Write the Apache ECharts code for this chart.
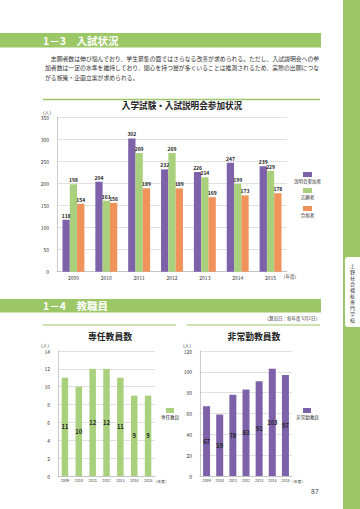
<!DOCTYPE html>
<html>
<head>
<meta charset="utf-8">
<script src="https://cdn.jsdelivr.net/npm/echarts@6/dist/echarts.min.js"></script>
<style>
  html, body { margin: 0; padding: 0; background: #fff; }
  #page { width: 360px; height: 509px; }
</style>
</head>
<body>
<div id="page"></div>
<script>
// --- data -----------------------------------------------------------------
const years = ['2009', '2010', '2011', '2012', '2013', '2014', '2015'];

const examNames = ['説明会参加者', '志願者', '合格者'];
const sessionAttendees = [118, 204, 302, 232, 226, 247, 239];
const applicants = [198, 161, 269, 269, 214, 199, 229];
const passed = [154, 156, 189, 189, 169, 173, 178];

const fullTimeName = '専任教員';
const fullTimeStaff = [11, 10, 12, 12, 11, 9, 9];

const partTimeName = '非常勤教員';
const partTimeStaff = [67, 59, 78, 83, 91, 103, 97];

// --- look -----------------------------------------------------------------
const GREEN = '#9cc766';
const PURPLE = '#7d62aa';
const LGREEN = '#a9d07c';
const ORANGE = '#f0935a';
const FONT = '"Noto Sans CJK JP", "Noto Sans", sans-serif';

const chart = echarts.init(document.getElementById('page'), null, { renderer: 'svg' });

function axisX(gridIndex, size) {
  return {
    type: 'category', gridIndex: gridIndex, data: years,
    axisTick: { show: false },
    axisLine: { lineStyle: { color: '#bdbdbd', width: 0.8 } },
    axisLabel: { interval: 0, fontSize: size, color: '#333', margin: 3, fontFamily: FONT }
  };
}
function axisY(gridIndex, max, interval) {
  return {
    type: 'value', gridIndex: gridIndex, min: 0, max: max, interval: interval,
    axisLine: { show: true, lineStyle: { color: '#bdbdbd', width: 0.8 } },
    axisTick: { show: false },
    splitLine: { lineStyle: { color: '#d9d9d9', width: 0.8 } },
    axisLabel: { fontSize: 5, color: '#333', margin: 8, fontFamily: FONT }
  };
}
const topLabel = { show: true, position: 'top', distance: 2, fontSize: 5, fontWeight: 'bold', color: '#222', fontFamily: FONT };
const midLabel = { show: true, position: 'inside', fontSize: 5.8, fontWeight: 'bold', color: '#222', fontFamily: FONT };

// paragraph lines
const para = [
  '　志願者数は伸び悩んでおり、学生募集の面ではさらなる改善が求められる。ただし、入試説明会への参',
  '加者数は一定の水準を維持しており、関心を持つ層が多くいることは推測されるため、実際の出願につな',
  'がる施策・企画立案が求められる。'
];
const paraY = [58, 67.5, 77];

const sideText = '上野社会福祉専門学校'.split('').join('\n');

const graphics = [
  // right edge strip and tab
  { type: 'rect', shape: { x: 343, y: 0, width: 17, height: 509 }, style: { fill: GREEN } },
  { type: 'rect', shape: { x: 345, y: 257, width: 20, height: 70, r: 3 }, style: { fill: '#fff' } },
  { type: 'text', x: 352.5, y: 292, style: { text: sideText, fontSize: 5, lineHeight: 6, fill: '#333', align: 'center', verticalAlign: 'middle', fontFamily: FONT } },

  // section 1-3
  { type: 'rect', shape: { x: 0, y: 33, width: 321, height: 14.5 }, style: { fill: GREEN } },
  { type: 'text', x: 43, y: 40.5, style: { text: '1－3　入試状況', fontSize: 10.5, fontWeight: 'bold', fill: '#fff', verticalAlign: 'middle', fontFamily: FONT } },
  { type: 'line', shape: { x1: 43, y1: 99.5, x2: 320, y2: 99.5 }, style: { stroke: GREEN, lineWidth: 1.5 } },
  { type: 'text', x: 182, y: 105, style: { text: '入学試験・入試説明会参加状況', fontSize: 8.6, fontWeight: 'bold', fill: '#222', align: 'center', verticalAlign: 'middle', fontFamily: FONT } },
  { type: 'text', x: 47, y: 112, style: { text: '（人）', fontSize: 4.5, fill: '#333', align: 'center', verticalAlign: 'middle', fontFamily: FONT } },
  { type: 'text', x: 281, y: 276, style: { text: '（年度）', fontSize: 4.5, fill: '#333', verticalAlign: 'middle', fontFamily: FONT } },

  // section 1-4
  { type: 'rect', shape: { x: 0, y: 299, width: 321, height: 13.5 }, style: { fill: GREEN } },
  { type: 'text', x: 43, y: 305.8, style: { text: '1－4　教職員', fontSize: 10.5, fontWeight: 'bold', fill: '#fff', verticalAlign: 'middle', fontFamily: FONT } },
  { type: 'text', x: 320, y: 318, style: { text: '（算出日：各年度 5月1日）', fontSize: 4.5, fill: '#333', align: 'right', verticalAlign: 'middle', fontFamily: FONT } },
  { type: 'line', shape: { x1: 43, y1: 325, x2: 176, y2: 325 }, style: { stroke: GREEN, lineWidth: 1.2 } },
  { type: 'line', shape: { x1: 187, y1: 325, x2: 320, y2: 325 }, style: { stroke: GREEN, lineWidth: 1.2 } },
  { type: 'text', x: 110, y: 336, style: { text: '専任教員数', fontSize: 8.8, fontWeight: 'bold', fill: '#222', align: 'center', verticalAlign: 'middle', fontFamily: FONT } },
  { type: 'text', x: 254, y: 336, style: { text: '非常勤教員数', fontSize: 8.8, fontWeight: 'bold', fill: '#222', align: 'center', verticalAlign: 'middle', fontFamily: FONT } },
  { type: 'text', x: 45, y: 345, style: { text: '（人）', fontSize: 4.5, fill: '#333', align: 'center', verticalAlign: 'middle', fontFamily: FONT } },
  { type: 'text', x: 187, y: 345, style: { text: '（人）', fontSize: 4.5, fill: '#333', align: 'center', verticalAlign: 'middle', fontFamily: FONT } },
  { type: 'text', x: 153.5, y: 481, style: { text: '（年度）', fontSize: 3.8, fill: '#333', verticalAlign: 'middle', fontFamily: FONT } },
  { type: 'text', x: 290, y: 481, style: { text: '（年度）', fontSize: 3.8, fill: '#333', verticalAlign: 'middle', fontFamily: FONT } },

  // page number
  { type: 'text', x: 315, y: 491, style: { text: '87', fontSize: 7, fill: '#444', align: 'center', verticalAlign: 'middle', fontFamily: FONT } }
];

para.forEach(function (line, i) {
  graphics.push({ type: 'text', x: 45, y: paraY[i], style: { text: line, fontSize: 5.85, fill: '#333', verticalAlign: 'middle', fontFamily: '"Noto Sans CJK JP", serif' } });
});

// legends (icon above text)
const examColors = [PURPLE, LGREEN, ORANGE];
const legY = [172, 188, 206];
examNames.forEach(function (n, i) {
  graphics.push({ type: 'rect', shape: { x: 303, y: legY[i], width: 9, height: 5 }, style: { fill: examColors[i] } });
  graphics.push({ type: 'text', x: 307.5, y: legY[i] + 9, style: { text: n, fontSize: 4.5, fill: '#333', align: 'center', verticalAlign: 'middle', fontFamily: FONT } });
});
graphics.push({ type: 'rect', shape: { x: 166, y: 408, width: 8, height: 5 }, style: { fill: LGREEN } });
graphics.push({ type: 'text', x: 170, y: 417, style: { text: fullTimeName, fontSize: 4.5, fill: '#333', align: 'center', verticalAlign: 'middle', fontFamily: FONT } });
graphics.push({ type: 'rect', shape: { x: 303, y: 408, width: 8, height: 5 }, style: { fill: PURPLE } });
graphics.push({ type: 'text', x: 307.5, y: 417, style: { text: partTimeName, fontSize: 4.5, fill: '#333', align: 'center', verticalAlign: 'middle', fontFamily: FONT } });

chart.setOption({
  backgroundColor: '#fff',
  animation: false,
  textStyle: { fontFamily: FONT },
  grid: [
    { left: 57, right: 73, top: 117.3, bottom: 237.3 },
    { left: 58, right: 205, top: 351, bottom: 33 },
    { left: 200, right: 68, top: 351, bottom: 33 }
  ],
  xAxis: [axisX(0, 5), axisX(1, 3.8), axisX(2, 3.8)],
  yAxis: [axisY(0, 350, 50), axisY(1, 14, 2), axisY(2, 120, 20)],
  series: [
    { name: examNames[0], type: 'bar', xAxisIndex: 0, yAxisIndex: 0, data: sessionAttendees, barWidth: 7.3, barGap: '0%', itemStyle: { color: PURPLE }, label: topLabel },
    { name: examNames[1], type: 'bar', xAxisIndex: 0, yAxisIndex: 0, data: applicants, barWidth: 7.3, barGap: '0%', itemStyle: { color: LGREEN }, label: topLabel },
    { name: examNames[2], type: 'bar', xAxisIndex: 0, yAxisIndex: 0, data: passed, barWidth: 7.3, barGap: '0%', itemStyle: { color: ORANGE }, label: topLabel },
    { name: fullTimeName, type: 'bar', xAxisIndex: 1, yAxisIndex: 1, data: fullTimeStaff, barWidth: 6.5, itemStyle: { color: LGREEN }, label: midLabel },
    { name: partTimeName, type: 'bar', xAxisIndex: 2, yAxisIndex: 2, data: partTimeStaff, barWidth: 7, itemStyle: { color: PURPLE }, label: midLabel }
  ],
  graphic: graphics
});
</script>
</body>
</html>
